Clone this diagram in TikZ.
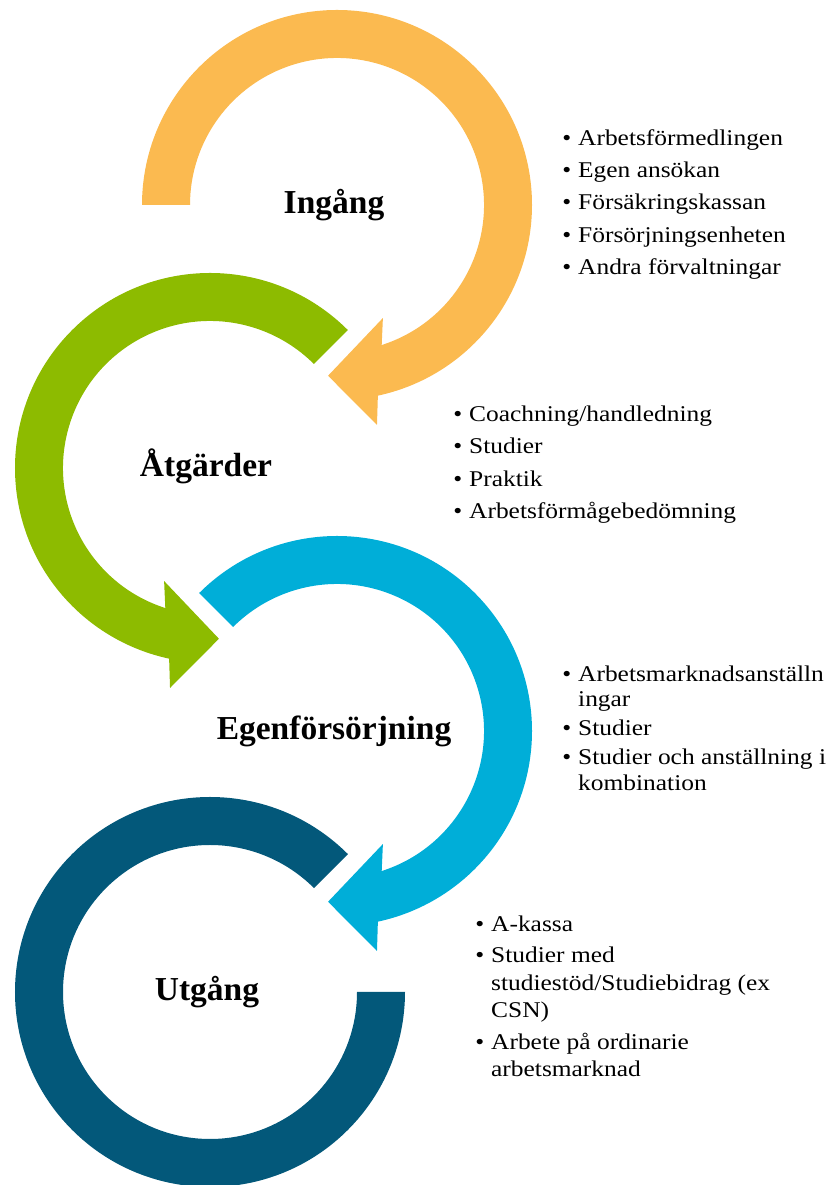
\documentclass[tikz,border=0pt]{standalone}
\usepackage{fontspec}
\setmainfont{Liberation Serif}
\newfontfamily\listfont[FakeStretch=1.13]{Liberation Serif}
\usepackage{tikz}
\usetikzlibrary{calc}
\definecolor{ringorange}{RGB}{251,186,80}
\definecolor{ringgreen}{RGB}{141,187,0}
\definecolor{ringblue}{RGB}{0,174,216}
\definecolor{ringteal}{RGB}{3,88,122}
\newcommand{\itm}{\llap{\textbullet\hspace{7pt}}}

\begin{document}
\begin{tikzpicture}[x=1pt, y=1pt,
		title/.style={font=\fontsize{33.5}{36}\selectfont\bfseries, anchor=base, inner sep=0pt},
		item/.style={font=\listfont\fontsize{22.5}{26}\selectfont, anchor=base west, inner sep=0pt}]
				\useasboundingbox (0,0) rectangle (834,1185);
				\coordinate (c1) at (337,980);
				\coordinate (c2) at (210,717);
				\coordinate (c3) at (337,454);
				\coordinate (c4) at (210,193);
				% rings
				\fill[ringorange, shift={(c1)}] (180:195) arc[start angle=180, end angle=-77.9, radius=195pt] -- (-79.7:223.6) -- (-93:171) -- (-67.9:122) -- (-72.3:147) arc[start angle=-72.3, end angle=180, radius=147pt] -- cycle;
				\fill[ringgreen, shift={(c2)}] (45:195) arc[start angle=45, end angle=257.9, radius=195pt] -- (259.7:223.6) -- (273:171) -- (247.9:122) -- (252.3:147) arc[start angle=252.3, end angle=45, radius=147pt] -- cycle;
				\fill[ringblue, shift={(c3)}] (135:195) arc[start angle=135, end angle=-77.9, radius=195pt] -- (-79.7:223.6) -- (-93:171) -- (-67.9:122) -- (-72.3:147) arc[start angle=-72.3, end angle=135, radius=147pt] -- cycle;
				\fill[ringteal, shift={(c4)}] (45:195) arc[start angle=45, end angle=360, radius=195pt] -- (0:147) arc[start angle=360, end angle=45, radius=147pt] -- cycle;
				% titles
				\node[title] (ingang) at ($(c1)+(-3,-9)$) {Ingång};
				\node[title] (atgarder) at ($(c2)+(-4,-9)$) {Åtgärder};
				\node[title] (egen) at ($(c3)+(-3,-9)$) {Egenförsörjning};
				\node[title] (utgang) at ($(c4)+(-3,-9)$) {Utgång};
				% lists
				\foreach \y/\t in {1039/\itm Arbetsförmedlingen, 1007/\itm Egen ansökan, 975/\itm Försäkringskassan, 942/\itm Försörjningsenheten, 910/\itm Andra förvaltningar}
					\node[item] (ina-\y) at (578,\y) {\t};
				\foreach \y/\t in {763/\itm {Coachning/handledning}, 731/\itm Studier, 698/\itm Praktik, 666/\itm Arbetsförmågebedömning}
					\node[item] (atg-\y) at (469,\y) {\t};
				\foreach \y/\t in {503/\itm Arbetsmarknadsanställn, 478/ingar, 449/\itm Studier, 420/\itm Studier och anställning i, 394/kombination}
					\node[item] (egn-\y) at (578,\y) {\t};
				\foreach \y/\t in {253/\itm A-kassa, 222/\itm Studier med, 194/studiestöd{/}Studiebidrag (ex, 167/CSN), 135/\itm Arbete på ordinarie, 108/arbetsmarknad}
					\node[item] (utg-\y) at (491,\y) {\t};
			\end{tikzpicture}
\end{document}
